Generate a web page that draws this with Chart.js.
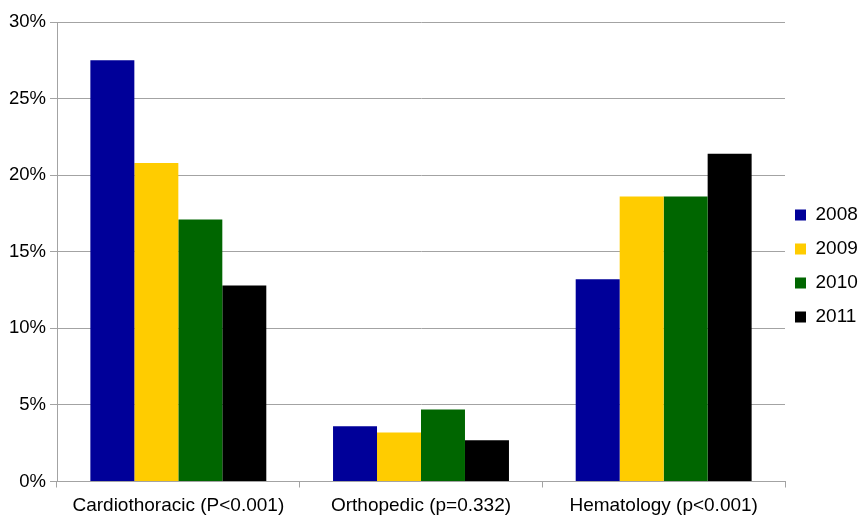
<!DOCTYPE html>
<html>
<head>
<meta charset="utf-8">
<script src="https://cdn.jsdelivr.net/npm/chart.js@4"></script>
<style>
  html, body { margin: 0; padding: 0; background: #ffffff; }
  #wrap { width: 859px; height: 515px; position: relative; }
</style>
</head>
<body>
<div id="wrap"><canvas id="c"></canvas></div>
<script>
const categories = ['Cardiothoracic (P<0.001)', 'Orthopedic (p=0.332)', 'Hematology (p<0.001)'];
const seriesNames = ['2008', '2009', '2010', '2011'];
const values2008 = [27.5, 3.6, 13.2];
const values2009 = [20.8, 3.2, 18.6];
const values2010 = [17.1, 4.7, 18.6];
const values2011 = [12.8, 2.7, 21.4];
const seriesColors = ['#000099', '#ffcc00', '#006600', '#000000'];
const yTicks = [0, 5, 10, 15, 20, 25, 30];

const FONT = "'Liberation Sans', Arial, sans-serif";
const GRID = '#a3a3a3';

const seriesValues = [values2008, values2009, values2010, values2011];
const datasets = seriesNames.map((name, i) => ({
  label: name,
  data: seriesValues[i],
  backgroundColor: seriesColors[i],
  borderWidth: 0,
  categoryPercentage: 0.725,
  barPercentage: 1.0
}));

const legendFix = {
  id: 'legendFix',
  afterInit(chart) {
    const lg = chart.legend;
    const orig = lg.fit.bind(lg);
    lg.fit = function () { orig(); this.width = 74; };
  },
  afterLayout(chart) {
    const lg = chart.legend;
    lg.top -= 2.5;
    lg.bottom -= 2.5;
    lg.left -= 5;
    lg.width += 5;
  }
};

new Chart(document.getElementById('c'), {
  type: 'bar',
  data: { labels: categories, datasets },
  options: {
    responsive: true,
    maintainAspectRatio: false,
    animation: false,
    devicePixelRatio: 1,
    layout: { padding: { top: 22, left: 0, right: 0, bottom: 0 } },
    plugins: {
      legend: {
        position: 'right',
        align: 'center',
        labels: {
          boxWidth: 11,
          boxHeight: 11,
          padding: 15,
          color: '#000000',
          font: { family: FONT, size: 19 }
        }
      },
      tooltip: { enabled: false }
    },
    scales: {
      x: {
        afterFit(scale) { scale.height = 33.5; },
        grid: { drawOnChartArea: false, drawTicks: true, tickLength: 6, color: GRID, lineWidth: 1 },
        border: { display: true, color: GRID, width: 1 },
        ticks: { color: '#000000', padding: 7, font: { family: FONT, size: 19 }, maxRotation: 0, autoSkip: false }
      },
      y: {
        min: 0,
        max: 30,
        afterFit(scale) { scale.width = 57; },
        afterBuildTicks(scale) { scale.ticks = yTicks.map(v => ({ value: v })); },
        grid: { color: GRID, lineWidth: 1, drawTicks: true, tickLength: 7 },
        border: { display: true, color: GRID, width: 1 },
        ticks: {
          color: '#000000',
          padding: 4,
          font: { family: FONT, size: 18.5 },
          callback: v => v + '%'
        }
      }
    }
  },
  plugins: [legendFix]
});
</script>
</body>
</html>
